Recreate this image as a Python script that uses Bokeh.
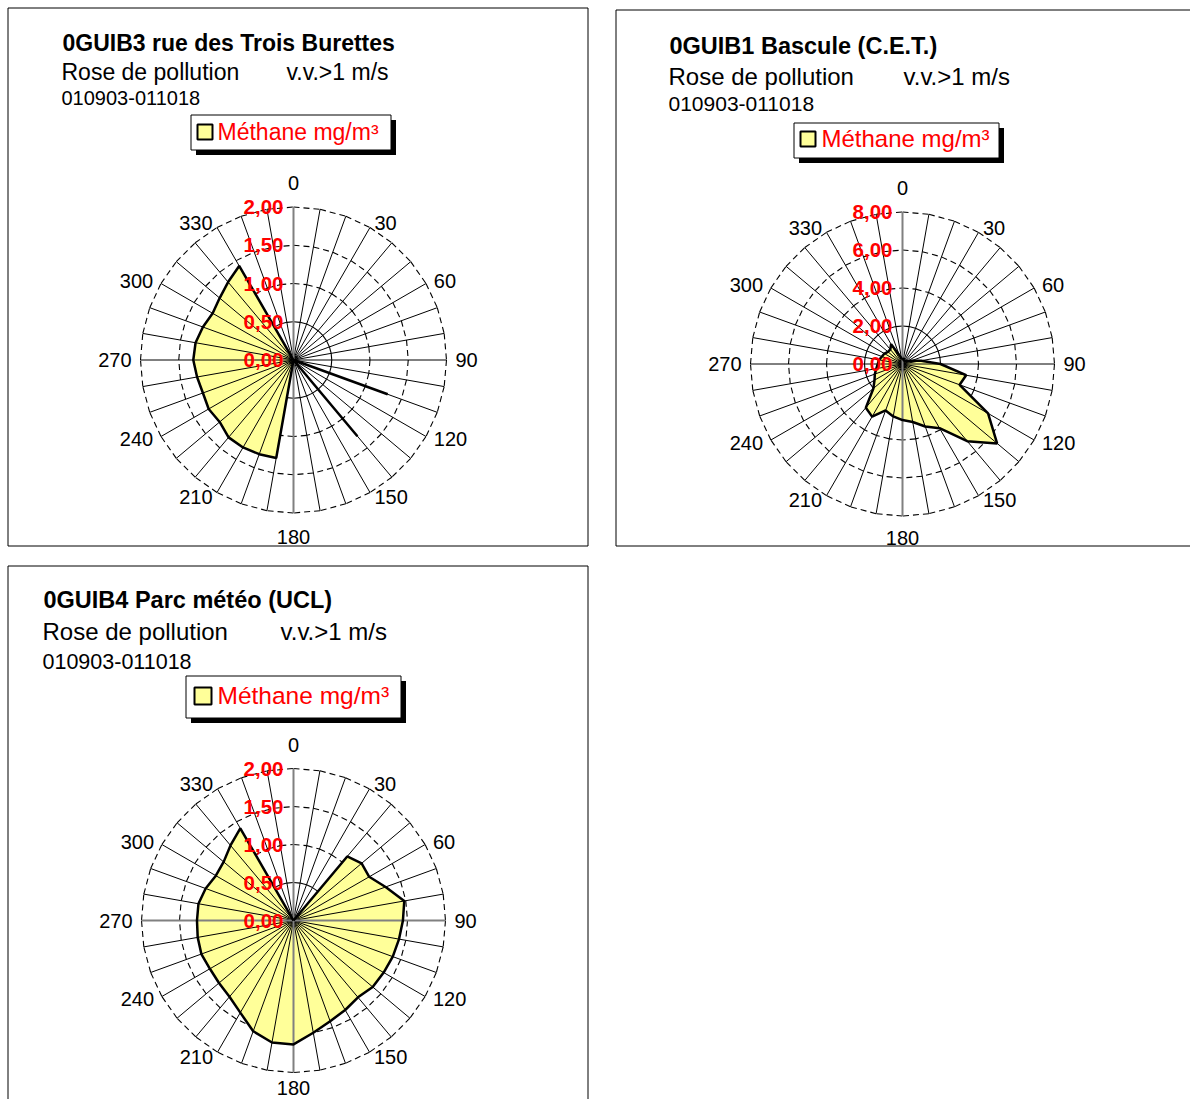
import math

from bokeh.core.properties import value
from bokeh.embed import file_html
from bokeh.models import Range1d
from bokeh.plotting import figure
from bokeh.resources import INLINE

FONT = "Liberation Sans"
FILL = "#FFFF99"
RED = "#FF0000"

# Wind direction sectors, degrees clockwise from north
directions = list(range(0, 360, 10))
direction_labels = [0, 30, 60, 90, 120, 150, 180, 210, 240, 270, 300, 330]

# Mean methane concentration (mg/m³) per wind sector
guib3_values = [0, 0, 0, 0, 0, 0, 0, 0, 0, 0,
                0, 1.31, 0, 0, 1.30, 0, 0, 0, 0,
                1.30, 1.31, 1.32, 1.32, 1.26, 1.28, 1.26, 1.28,
                1.31, 1.30, 1.26, 1.22, 1.26, 1.33, 1.42, 0, 0]
guib1_values = [0.30, 0.25, 0.20, 0.20, 0.20, 0.25, 0.30, 0.50, 1.00, 2.00,
                3.40, 3.20, 5.20, 6.50, 5.30, 3.90, 3.50, 3.10, 2.95,
                2.80, 2.60, 3.20, 3.00, 2.00, 1.70, 1.55, 1.40,
                1.30, 1.25, 1.15, 1.10, 1.00, 1.00, 1.20, 0.50, 0.30]
guib4_values = [0, 0, 0, 0, 1.10, 1.17, 1.15, 1.29, 1.48, 1.44,
                1.41, 1.39, 1.37, 1.36, 1.32, 1.36, 1.41, 1.50, 1.63,
                1.63, 1.55, 1.40, 1.31, 1.28, 1.27, 1.29, 1.28,
                1.27, 1.27, 1.23, 1.18, 1.20, 1.29, 1.40, 0, 0]

# Radial scale ticks
guib3_ticks = [0.0, 0.5, 1.0, 1.5, 2.0]
guib1_ticks = [0.0, 2.0, 4.0, 6.0, 8.0]
guib4_ticks = [0.0, 0.5, 1.0, 1.5, 2.0]

station_titles = ["0GUIB3 rue des Trois Burettes",
                  "0GUIB1 Bascule (C.E.T.)",
                  "0GUIB4 Parc météo (UCL)"]
subtitle = "Rose de pollution"
wind_filter = "v.v.>1 m/s"
period = "010903-011018"
series_name = "Méthane mg/m³"

W, H = 1190, 1099

panels = [
    dict(key="a", values=guib3_values, ticks=guib3_ticks, title=station_titles[0],
         box=(7.5, 7.5, 587.5, 545.5), center=(293.0, 359.5), radius=153.0,
         text_x=62, title_y=42, sub_y=71, wind_x=286, date_y=97,
         fs=(23, 23, 20, 23), bottom_gap=23.5,
         legend=(190.5, 114.5, 390.5, 149.5), swatch=(197, 124, 212, 139),
         legend_text_x=217, legend_y=131, h_gray=False),
    dict(key="b", values=guib1_values, ticks=guib1_ticks, title=station_titles[1],
         box=(615.5, 9.5, 1220, 545.5), center=(902.0, 363.5), radius=152.0,
         text_x=669, title_y=45, sub_y=76, wind_x=903, date_y=103,
         fs=(23.5, 24, 21, 24), bottom_gap=21.5,
         legend=(793.5, 122.5, 998.5, 157.5), swatch=(800, 131, 815, 146),
         legend_text_x=821, legend_y=138, h_gray=False),
    dict(key="c", values=guib4_values, ticks=guib4_ticks, title=station_titles[2],
         box=(7.5, 565.5, 587.5, 1130), center=(293.0, 920.0), radius=152.0,
         text_x=43, title_y=599, sub_y=631, wind_x=280, date_y=661,
         fs=(23.5, 24, 21.5, 24.5), bottom_gap=15.5,
         legend=(185.5, 675.5, 400.5, 717.5), swatch=(194, 687, 211, 704),
         legend_text_x=217, legend_y=695, h_gray=True),
]

p = figure(width=W, height=H, x_range=Range1d(0, W), y_range=Range1d(H, 0),
           output_backend="svg", toolbar_location=None, min_border=0,
           x_axis_location=None, y_axis_location=None,
           outline_line_color=None, background_fill_color="white",
           border_fill_color="white")
p.grid.visible = False


def fmt(v):
    return f"{v:.2f}".replace(".", ",")


def draw_frame(pn):
    l, t, r, b = pn["box"]
    p.quad(left=[l], right=[r], top=[t], bottom=[b], fill_color=None,
           line_color="black", line_width=1)
    fs_title, fs_sub, fs_date, fs_leg = pn["fs"]
    tx = pn["text_x"]
    p.text(x=[tx], y=[pn["title_y"]], text=[pn["title"]], text_font=value(FONT),
           text_font_size=f"{fs_title}px", text_font_style="bold",
           text_baseline="middle", text_align="left", text_color="black")
    p.text(x=[tx - 1, pn["wind_x"]], y=[pn["sub_y"]] * 2, text=[subtitle, wind_filter],
           text_font=value(FONT), text_font_size=f"{fs_sub}px",
           text_baseline="middle", text_align="left", text_color="black")
    p.text(x=[tx - 1], y=[pn["date_y"]], text=[period], text_font=value(FONT),
           text_font_size=f"{fs_date}px", text_baseline="middle",
           text_align="left", text_color="black")
    # legend with drop shadow
    ll, lt, lr, lb = pn["legend"]
    p.quad(left=[ll + 5], right=[lr + 5], top=[lt + 5], bottom=[lb + 5],
           fill_color="black", line_color=None)
    p.quad(left=[ll], right=[lr], top=[lt], bottom=[lb], fill_color="white",
           line_color="black", line_width=1)
    sl, st, sr, sb = pn["swatch"]
    p.quad(left=[sl], right=[sr], top=[st], bottom=[sb], fill_color=FILL,
           line_color="black", line_width=2)
    p.text(x=[pn["legend_text_x"]], y=[pn["legend_y"]], text=[series_name],
           text_font=value(FONT), text_font_size=f"{fs_leg}px",
           text_baseline="middle", text_align="left", text_color=RED)


def draw_rose(pn):
    key = pn["key"]
    cx, cy = pn["center"]
    ticks = pn["ticks"]
    rmax = ticks[-1]
    s = pn["radius"] / rmax  # pixels per unit
    xr, yr = f"{key}_x", f"{key}_y"
    p.extra_x_ranges[xr] = Range1d(-cx / s, (W - cx) / s)
    p.extra_y_ranges[yr] = Range1d(-(H - cy) / s, cy / s)
    kw = dict(x_range_name=xr, y_range_name=yr)

    th = [math.radians(d) for d in directions]
    n = len(th)

    # value gridlines (36-sided rings)
    for i, r in enumerate(ticks[1:]):
        xs = [[r * math.sin(th[k]), r * math.sin(th[(k + 1) % n])] for k in range(n)]
        ys = [[r * math.cos(th[k]), r * math.cos(th[(k + 1) % n])] for k in range(n)]
        dash = "solid" if i == 0 else "6 4"
        p.multi_line(xs, ys, line_color="black", line_width=1.1, line_dash=dash, **kw)

    vals = pn["values"]
    px = [v * math.sin(t) for v, t in zip(vals, th)]
    py = [v * math.cos(t) for v, t in zip(vals, th)]
    p.patch(px, py, fill_color=FILL, line_color=None, **kw)

    # spokes
    skip = {0, 180} | ({90, 270} if pn["h_gray"] else set())
    sx = [[0, rmax * math.sin(t)] for d, t in zip(directions, th) if d not in skip]
    sy = [[0, rmax * math.cos(t)] for d, t in zip(directions, th) if d not in skip]
    p.multi_line(sx, sy, line_color="black", line_width=1, **kw)
    p.line([0, 0], [-rmax, rmax], line_color="#808080", line_width=2, **kw)
    if pn["h_gray"]:
        p.line([-rmax, rmax], [0, 0], line_color="#808080", line_width=2, **kw)

    # series outline
    p.line(px + [px[0]], py + [py[0]], line_color="black", line_width=2.5, **kw)

    # direction labels
    groups = {}
    for d in direction_labels:
        t = math.radians(d)
        sn, cs = math.sin(t), math.cos(t)
        if abs(sn) < 1e-6:
            align = "center"
            dx, dy = 0.0, (-24.0 if cs > 0 else pn["bottom_gap"])
        else:
            align = "left" if sn > 0 else "right"
            dx = 9.0 * sn
            dy = -5.5 * cs
        g = groups.setdefault(align, ([], [], []))
        g[0].append(rmax * sn + dx / s)
        g[1].append(rmax * cs - dy / s)
        g[2].append(str(d))
    for align, (gx, gy, gt) in groups.items():
        p.text(x=gx, y=gy, text=gt, text_align=align, text_baseline="middle",
               text_font=value(FONT), text_font_size="20px", text_color="black", **kw)

    # radial scale labels
    p.text(x=[-10.0 / s] * len(ticks), y=ticks, text=[fmt(v) for v in ticks],
           text_align="right", text_baseline="middle", text_font=value(FONT),
           text_font_size="20.5px", text_font_style="bold", text_color=RED, **kw)


for pn in panels:
    draw_rose(pn)
    draw_frame(pn)

open("out.html", "w").write(file_html(p, INLINE))
